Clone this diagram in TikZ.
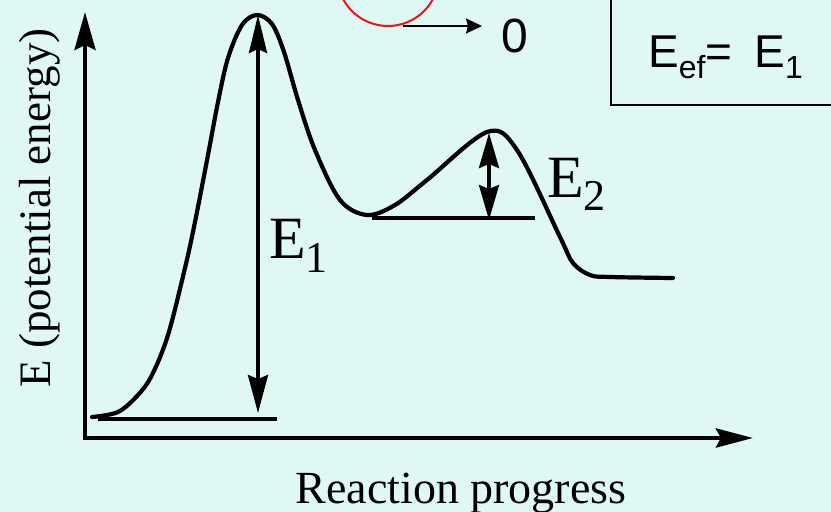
\documentclass[tikz,border=0pt]{standalone}
\usepackage{fontspec}
\setmainfont{Liberation Serif}
\newfontfamily\sansf{Liberation Sans}
\usetikzlibrary{arrows.meta}
\definecolor{bgc}{RGB}{223,248,244}
\definecolor{ringred}{RGB}{240,20,20}
\begin{document}
\begin{tikzpicture}[x=1pt,y=-1pt,
  axisline/.style={line width=4.5pt, line join=miter,
    {Stealth[length=38pt,width=21pt,inset=5pt]}-{Stealth[length=37pt,width=19pt,inset=5pt]}},
  energycurve/.style={line width=4.2pt, line cap=round, line join=round},
  levelline/.style={line width=4.2pt},
  dimarrow/.style={line width=3.3pt,
    {Stealth[length=38pt,width=20pt,inset=4pt]}-{Stealth[length=38pt,width=18pt,inset=4pt]}},
  smalldim/.style={line width=3.3pt,
    {Stealth[length=35pt,width=20pt,inset=4pt]}-{Stealth[length=35pt,width=20pt,inset=4pt]}},
  serif60/.style={font=\fontsize{60}{60}\selectfont, inner sep=0pt},
  label45/.style={font=\fontsize{46}{46}\selectfont, inner sep=0pt},
  sans46/.style={font=\sansf\fontsize{46}{46}\selectfont, inner sep=0pt},
]
\useasboundingbox (0,0) rectangle (831,512);
\clip (0,0) rectangle (831,512);
\fill[bgc] (0,0) rectangle (831,512);

% axes
\coordinate (ytop) at (85,12);
\coordinate (origin) at (85,438);
\coordinate (xend) at (753,438);
\draw[axisline] (ytop) -- (origin) -- (xend);

% energy curve
\draw[energycurve] plot[smooth, tension=0.55] coordinates {
 (92,417) (118,412) (138,395) (152,375) (168,335) (185,268) (195,222)
 (208,155) (218,102) (228,58) (242,25) (257,15) (272,24) (284,52)
 (298,100) (315,150) (340,200) (367,215)
 (395,205) (427,180) (487,132) (517,150) (560,237) (573,263) (590,275)
 (610,277) (673,278)};

% levels
\coordinate (l1a) at (98,419);
\coordinate (l1b) at (277,419);
\draw[levelline] (l1a) -- (l1b);
\coordinate (l2a) at (372,218);
\coordinate (l2b) at (535,218);
\draw[levelline] (l2a) -- (l2b);

% E1 arrow
\coordinate (p1top) at (258,15);
\coordinate (p1bot) at (258,413);
\draw[dimarrow] (p1bot) -- (p1top);

% E2 arrow
\coordinate (p2top) at (489,133);
\coordinate (p2bot) at (489,220);
\draw[smalldim] (p2bot) -- (p2top);

% labels
\node[serif60, anchor=base west] (e1lab) at (269,258)
  {E\raisebox{-14pt}{\fontsize{44}{44}\selectfont 1}};
\node[serif60, anchor=base west] (e2lab) at (547,197)
  {E\raisebox{-13pt}{\fontsize{44}{44}\selectfont 2}};

\node[label45, anchor=base] (xlab) at (461,503) {Reaction progress};
\node[label45, font=\fontsize{45}{45}\selectfont, anchor=base, rotate=90] (ylab) at (50,208) {E (potential energy)};

% red ring and arrow to 0
\draw[ringred, line width=2pt] (388,-25) circle[radius=51];
\coordinate (zs) at (403,26);
\node[sans46, font=\sansf\fontsize{48}{48}\selectfont, anchor=base] (zero) at (514.5,52) {0};
\coordinate (ze) at (482,26);
\draw[line width=2.2pt, -{Stealth[length=16pt,width=15pt,inset=2pt]}] (zs) -- (ze);

% box
\draw[line width=2.2pt] (611,-10) rectangle (845,105);
\node[sans46, anchor=base west] (eef) at (648,67)
  {E\raisebox{-11pt}{\fontsize{32}{32}\selectfont ef}=\hspace{22pt}E\raisebox{-11pt}{\fontsize{32}{32}\selectfont 1}};
\end{tikzpicture}
\end{document}
